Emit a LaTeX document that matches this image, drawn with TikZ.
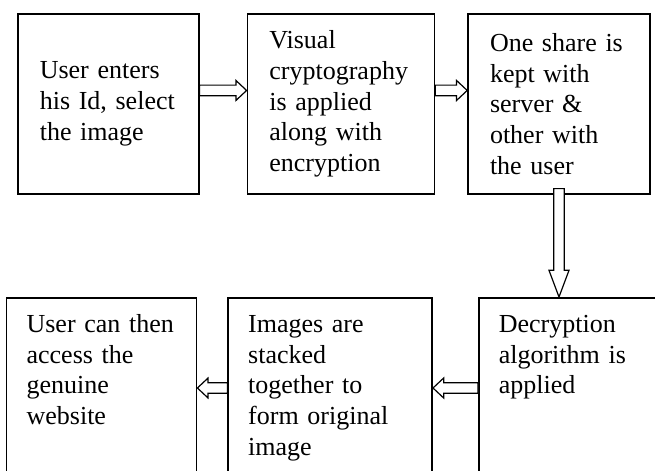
\documentclass[tikz,border=0pt]{standalone}
\usepackage{fontspec}
\setmainfont{Liberation Serif}
\usetikzlibrary{calc,positioning}

\begin{document}
\begin{tikzpicture}[
  x=0.75pt, y=-0.75pt,
  font=\fontsize{19.5}{23}\selectfont,
  box/.style={draw, line width=1.2pt, align=left, inner xsep=16.5pt, minimum height=135pt},
  tallbox/.style={draw, line width=1.2pt, align=left, inner xsep=15pt, inner ysep=11pt, text height=15pt, text depth=150pt},
  blockarrow/.style={draw, fill=white, line width=0.9pt, to path={
    ($(\tikztostart)!4pt!90:(\tikztotarget)$)
    -- ($(\tikztotarget)!#1!(\tikztostart)!4pt!90:(\tikztotarget)$)
    -- ($(\tikztotarget)!#1!(\tikztostart)!7.5pt!90:(\tikztotarget)$)
    -- (\tikztotarget)
    -- ($(\tikztotarget)!#1!(\tikztostart)!7.5pt!-90:(\tikztotarget)$)
    -- ($(\tikztotarget)!#1!(\tikztostart)!4pt!-90:(\tikztotarget)$)
    -- ($(\tikztostart)!4pt!-90:(\tikztotarget)$)
    -- cycle}},
  blockarrow/.default=8pt
]

\useasboundingbox (0,0) rectangle (655,470);
\clip (0,0) rectangle (655,470);

\node[box, text width=102.75pt, anchor=north west] (user) at (17,13) {User enters\\his Id, select\\the image};

\node[box, text width=107.25pt, right=35.25pt of user] (visual) {Visual\\cryptography\\is applied\\along with\\encryption};

\node[box, text width=103.5pt, right=24pt of visual] (share) {One share is\\kept with\\server \&\\other with\\the user};

% bottom row runs right to left, cut by the page edge
\node[tallbox, text width=112.5pt, anchor=north west] (decrypt) at (478,297) {Decryption\\algorithm is\\applied};

\node[tallbox, text width=123pt, left=33.75pt of decrypt] (stack) {Images are\\stacked\\together to\\form original\\image};

\node[tallbox, text width=112.5pt, left=22.5pt of stack] (access) {User can then\\access the\\genuine\\website};

\draw[blockarrow] ([yshift=10pt]user.east) to ([yshift=10pt]visual.west);
\draw[blockarrow] ([yshift=10pt]visual.east) to ([yshift=10pt]share.west);
\draw[blockarrow=20pt] ([yshift=4.5pt]share.south) to (share.south |- decrypt.north);
\draw[blockarrow] ([yshift=-68.25pt]decrypt.north west) to ([yshift=-68.25pt]stack.north east);
\draw[blockarrow] ([yshift=-68.25pt]stack.north west) to ([yshift=-68.25pt]access.north east);

\end{tikzpicture}
\end{document}
